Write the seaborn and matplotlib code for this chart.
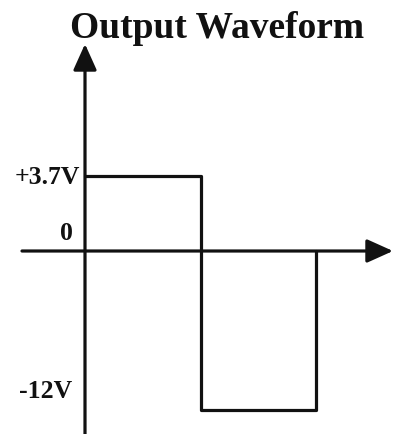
import numpy as np
import pandas as pd
import seaborn as sns
import matplotlib.pyplot as plt

# --- Data ---
t_points = [0, 1, 1, 2, 2]
volt_points = [3.7, 3.7, -12, -12, 0]
level_values = [3.7, 0, -12]
level_labels = ["+3.7V", "0", "-12V"]
title = "Output Waveform"

df = pd.DataFrame({"t": t_points, "V": volt_points})

# piecewise linear scale: positive and negative halves drawn at different scales
POS = 75 / 3.7
NEG = 159 / 12


def fwd(y):
    y = np.asarray(y, dtype=float)
    return np.where(y >= 0, y * POS, y * NEG)


def inv(y):
    y = np.asarray(y, dtype=float)
    return np.where(y >= 0, y / POS, y / NEG)


sns.set_style("white")
plt.rcParams["font.family"] = ["Liberation Serif", "DejaVu Serif"]

fig = plt.figure(figsize=(3.94, 4.35), dpi=100)
ax = fig.add_axes([0, 0, 1, 1])
ax.set_yscale("function", functions=(fwd, inv))

x0, xscale = 85, 115.5
ax.set_xlim(-x0 / xscale, (394 - x0) / xscale)
ax.set_ylim(float(inv(-183)), float(inv(252)))

ink = "#111111"
sns.lineplot(data=df, x="t", y="V", sort=False, estimator=None,
             color=ink, linewidth=2.3, ax=ax)

# axes with arrows
arrow = dict(arrowstyle="-|>,head_length=0.8,head_width=0.36",
             color=ink, lw=2.3, shrinkA=0, shrinkB=0, mutation_scale=20)
ax.annotate("", xy=((393 - x0) / xscale, 0), xytext=((22 - x0) / xscale, 0),
            arrowprops=arrow)
ax.annotate("", xy=(0, float(inv(252 - 45))), xytext=(0, float(inv(-190))),
            arrowprops=arrow)

# level labels
offsets = [(-3.6, 0), (-8.6, 13), (-9.4, 14)]
for val, lab, off in zip(level_values, level_labels, offsets):
    ax.annotate(lab, xy=(0, val), xytext=off, textcoords="offset points",
                ha="right", va="center", fontsize=18.5, fontweight="bold",
                color=ink)

fig.text(217.5 / 394, 1 - 38 / 435, title, ha="center", va="baseline",
         fontsize=27, fontweight="bold", color=ink)

ax.set_xlabel("")
ax.set_ylabel("")
ax.set_xticks([])
ax.set_yticks([])
ax.minorticks_off()
for s in ax.spines.values():
    s.set_visible(False)

fig.savefig("out.png", dpi=100)
